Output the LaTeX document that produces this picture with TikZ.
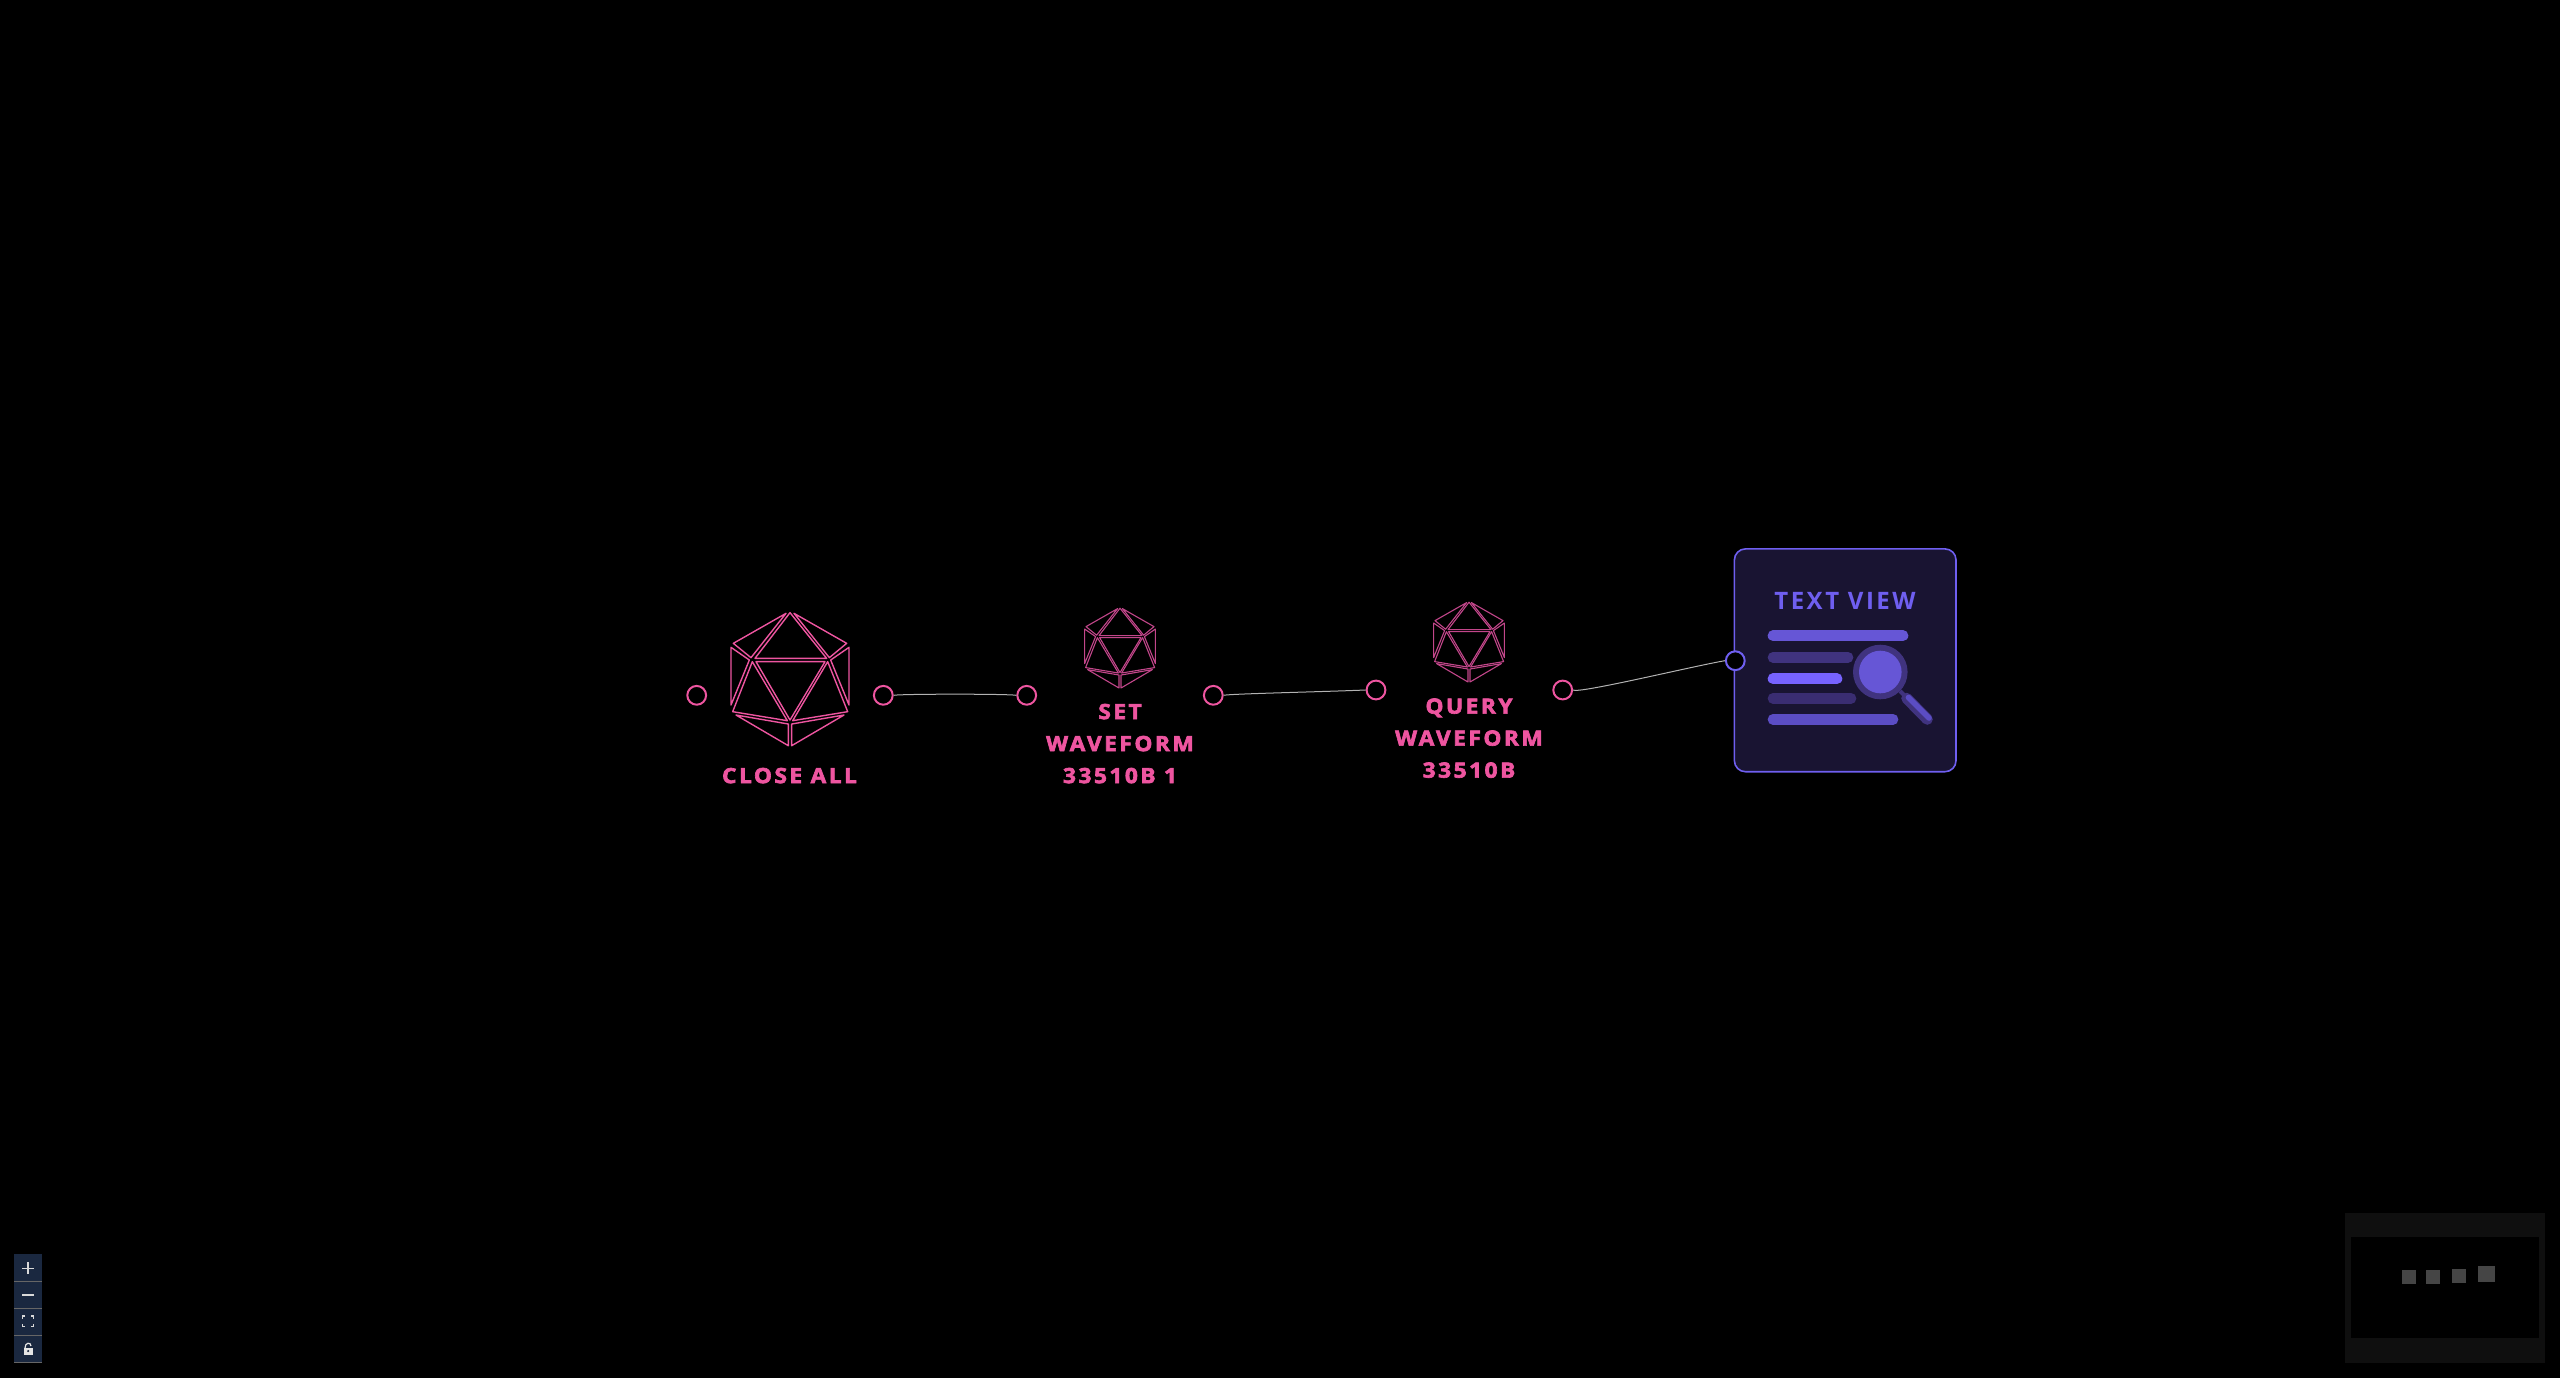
\documentclass[tikz,border=0pt]{standalone}
\usepackage{fontspec}
\setmainfont{Open Sans}
\newfontfamily\lab[LetterSpace=12,BoldFeatures={FakeBold=3,FakeStretch=1.08}]{Open Sans}
\newfontfamily\tvf[LetterSpace=10.5]{Open Sans}
\definecolor{pk}{HTML}{EE55A0}
\definecolor{pkd}{HTML}{C2468A}
\definecolor{vio}{HTML}{6F5FF0}
\definecolor{vbg}{HTML}{191432}
\definecolor{va}{HTML}{6656D6}
\definecolor{vb}{HTML}{40337F}
\definecolor{vc}{HTML}{7763FF}
\definecolor{vd}{HTML}{3A2D72}
\definecolor{ve}{HTML}{5B4DC4}
\definecolor{btn}{HTML}{1A2840}
\tikzset{
  port/.style={circle,draw=pk,fill=black,line width=1pt,minimum size=9.4pt,inner sep=0pt},
  vport/.style={port,draw=vio},
  wire/.style={draw=black!30!white,line width=0.5pt},
  title/.style={font=\lab\bfseries\fontsize{10.5}{16}\selectfont,text=pk,align=center,anchor=north,inner sep=0pt},
  bar/.style={line width=5.33pt,line cap=round},
  ico/.pic={
    \begin{scope}[x=0.16667pt,y=-0.16667pt,shift={(-360,-267)},line join=round]
      \path[pic actions] (360,68)--(470,205)--(255,205)--cycle;
      \path[pic actions] (348,70)--(190,160)--(243,203)--cycle;
      \path[pic actions] (372,70)--(530,160)--(478,203)--cycle;
      \path[pic actions] (183,172)--(238,210)--(183,345)--cycle;
      \path[pic actions] (537,172)--(482,210)--(537,345)--cycle;
      \path[pic actions] (247,215)--(352,392)--(188,365)--cycle;
      \path[pic actions] (258,215)--(465,215)--(360,390)--cycle;
      \path[pic actions] (473,215)--(368,392)--(533,365)--cycle;
      \path[pic actions] (198,375)--(355,402)--(355,467)--cycle;
      \path[pic actions] (522,375)--(365,402)--(365,467)--cycle;
    \end{scope}
  }
}
\begin{document}
\begin{tikzpicture}[x=0.5pt,y=-0.5pt]
\useasboundingbox (0,0) rectangle (2560,1378);
\fill[black] (0,0) rectangle (2560,1378);

% icosahedra
\pic[draw=pk,line width=0.7pt] (ia) at (790,679) {ico};
\pic[draw=pkd,line width=0.55pt,scale=0.6] (ib) at (1120,648) {ico};
\pic[draw=pkd,line width=0.55pt,scale=0.6] (ic) at (1469,642) {ico};

% labels
\node[title] (la) at (789.5,767.5) {CLOSE ALL};
\node[title] (lb) at (1120,703.5) {SET\\WAVEFORM\\33510B 1};
\node[title] (lc) at (1469,698) {QUERY\\WAVEFORM\\33510B};

% text view card
\node[draw=vio,fill=vbg,line width=0.8pt,rounded corners=5.5pt,minimum width=110.8pt,minimum height=111.4pt,inner sep=0pt] (tv) at (1845.2,660.3) {};
\node[font=\tvf\bfseries\fontsize{12}{14}\selectfont,text=vio,anchor=base,inner sep=0pt] (tvt) at (1845,609) {TEXT VIEW};
\draw[bar,va] (1773,635.7)--(1903,635.7);
\draw[bar,vb] (1773,657.3)--(1848,657.3);
\draw[bar,vc] (1773,678.7)--(1837,678.7);
\draw[bar,vd] (1773,698.3)--(1851,698.3);
\draw[bar,ve] (1773,719.3)--(1893,719.3);
\draw[vb,line width=2pt] (1900,691)--(1912,703);
\draw[bar,line width=5.5pt,vb] (1906.7,698.3)--(1927.3,719.3);
\draw[line cap=round,line width=2.8pt,ve] (1908.5,697.5)--(1929,718);
\fill[vb] (1880.3,672) circle[radius=27.3];
\fill[va] (1880.3,672) circle[radius=21.3];

% ports
\node[port] (a1) at (696.7,695.3) {};
\node[port] (a2) at (883.3,695.3) {};
\node[port] (b1) at (1026.7,695.3) {};
\node[port] (b2) at (1213.3,695.3) {};
\node[port] (c1) at (1376,690) {};
\node[port] (c2) at (1562.7,690) {};
\node[vport] (t1) at (1735.3,660.7) {};

% connectors
\draw[wire] (a2.east) .. controls +(8,-1.5) and +(-8,-1.5) .. (b1.west);
\draw[wire] (b2.east) .. controls +(6,-1.5) and +(-50,2) .. (c1.west);
\draw[wire] (c2.east) .. controls +(5,4) and +(-30,5) .. (t1.west);

% zoom controls
\fill[btn] (14.3,1254) rectangle (41.7,1362.7);
\foreach \yy in {1281,1308.3,1335,1362.2} \draw[black!60!white,line width=0.5pt] (14.3,\yy)--(41.7,\yy);
\draw[white!85!black,line width=0.8pt] (22,1268.3)--(34,1268.3) (28,1262.3)--(28,1274.3);
\draw[white!85!black,line width=0.8pt] (22,1295)--(34,1295);
\draw[white!85!black,line width=0.7pt] (22.5,1318.5)--(22.5,1316)--(25,1316) (31,1316)--(33.5,1316)--(33.5,1318.5) (33.5,1324)--(33.5,1326.5)--(31,1326.5) (25,1326.5)--(22.5,1326.5)--(22.5,1324);
\fill[white!90!black] (23.5,1348) rectangle (33,1354.5);
\draw[white!90!black,line width=0.6pt] (25,1348) .. controls (25,1342) and (31,1342) .. (31,1346);
\fill[btn] (28.2,1351) circle[radius=1.2];

% minimap
\fill[black!94!white] (2345,1212.7) rectangle (2545,1362.7);
\fill[black] (2351,1237.3) rectangle (2539,1338.3);
\fill[black!73!white] (2402,1270) rectangle (2416,1284);
\fill[black!73!white] (2426,1270) rectangle (2440,1284);
\fill[black!73!white] (2452,1269) rectangle (2466,1283);
\fill[black!73!white] (2478,1266) rectangle (2495,1282);
\end{tikzpicture}
\end{document}
